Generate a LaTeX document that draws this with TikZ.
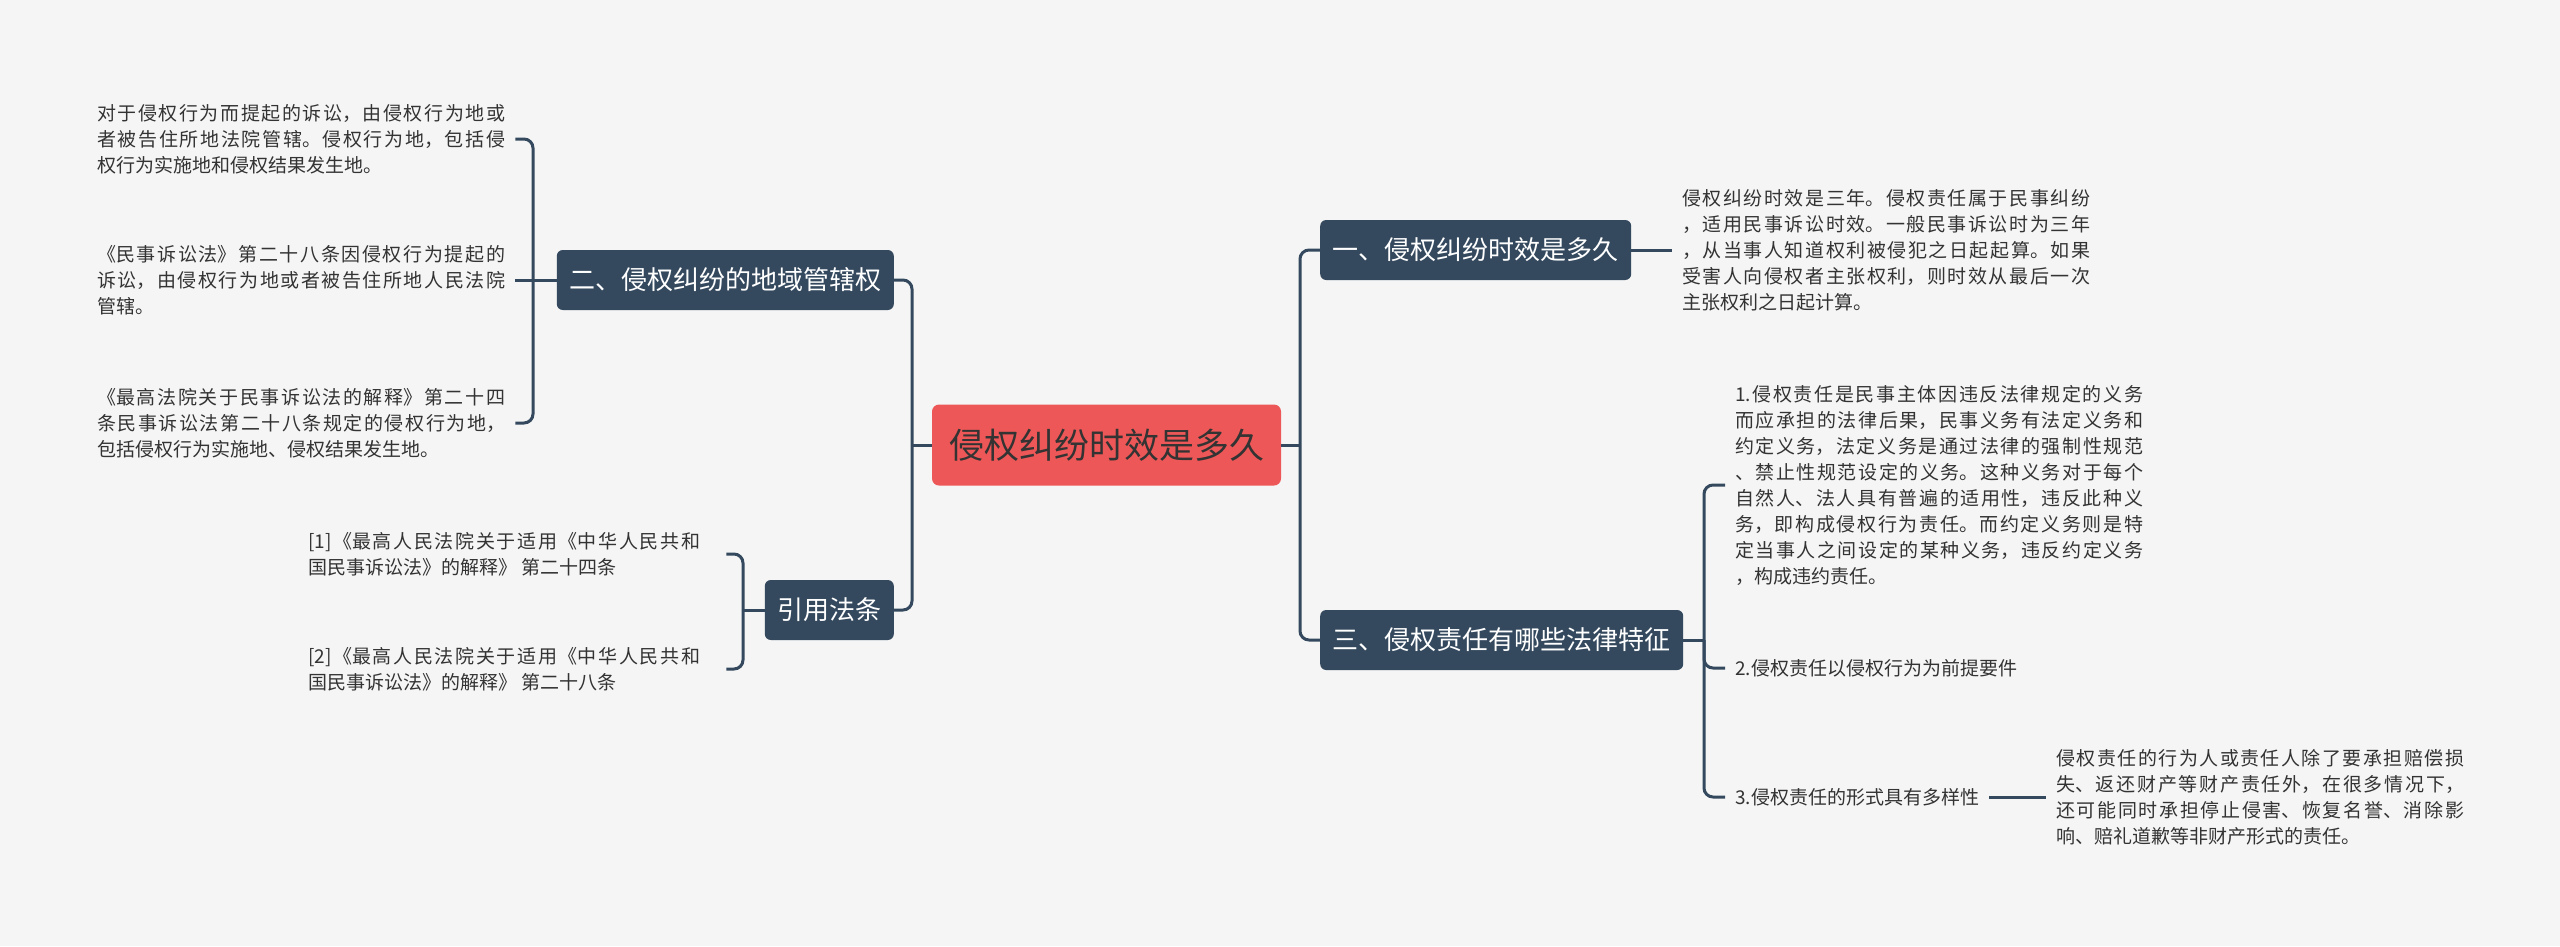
\documentclass[tikz,border=0pt]{standalone}
\usepackage{fontspec}
\setmainfont{Noto Sans CJK SC}
\XeTeXlinebreaklocale "zh"
\XeTeXlinebreakskip=0pt plus 3pt
\definecolor{bg}{HTML}{F5F5F5}
\definecolor{navy}{HTML}{34495E}
\definecolor{rootred}{HTML}{EE5757}
\definecolor{txt}{HTML}{333333}
\tikzset{
  conn/.style={draw=navy, line width=3pt},
  rc/.style={conn, rounded corners=9pt},
  rootbox/.style={fill=rootred, rounded corners=7pt, text=txt, font=\fontsize{35}{40}\selectfont, minimum width=349pt, minimum height=81pt, inner sep=0pt},
  branch/.style={fill=navy, rounded corners=6pt, text=white, font=\fontsize{26}{30}\selectfont, inner xsep=12.5pt, inner ysep=0pt, minimum height=60pt},
  leaf/.style={text=txt, font=\fontsize{19}{26}\selectfont, inner xsep=10pt, inner ysep=0pt},
  para/.style={leaf, text width=408pt, align=justify},
  cite/.style={leaf, text width=392pt, align=justify}
}
\begin{document}
\begin{tikzpicture}[x=1pt, y=-1pt]
\fill[bg] (0,0) rectangle (2560,946);
\useasboundingbox (0,0) rectangle (2560,946);

% root and branches
\node[rootbox] (root) at (1106.5,445) {侵权纠纷时效是多久};
\node[branch, anchor=west] (n1) at (1320,250) {一、侵权纠纷时效是多久};
\node[branch, anchor=west] (n3) at (1320,640) {三、侵权责任有哪些法律特征};
\node[branch, anchor=east] (n2) at (894,280) {二、侵权纠纷的地域管辖权};
\node[branch, anchor=east] (n4) at (894,610) {引用法条};

% junctions
\coordinate (jl) at (912,445);
\coordinate (jr) at (1300,445);
\coordinate (j2) at (533,280);
\coordinate (j4) at (743,610);
\coordinate (j3) at (1704,640);

% right leaves
\node[para, anchor=west] (t1) at (1672,250) {侵权纠纷时效是三年。侵权责任属于民事纠纷\linebreak ，适用民事诉讼时效。一般民事诉讼时为三年\linebreak ，从当事人知道权利被侵犯之日起起算。如果\linebreak 受害人向侵权者主张权利，则时效从最后一次\linebreak 主张权利之日起计算。};
\node[para, anchor=west] (t3a) at (1725,485) {1.侵权责任是民事主体因违反法律规定的义务\linebreak 而应承担的法律后果，民事义务有法定义务和\linebreak 约定义务，法定义务是通过法律的强制性规范\linebreak 、禁止性规范设定的义务。这种义务对于每个\linebreak 自然人、法人具有普遍的适用性，违反此种义\linebreak 务，即构成侵权行为责任。而约定义务则是特\linebreak 定当事人之间设定的某种义务，违反约定义务\linebreak ，构成违约责任。};
\node[leaf, anchor=west] (t3b) at (1725,668) {2.侵权责任以侵权行为为前提要件};
\node[leaf, anchor=west] (t3c) at (1725,797) {3.侵权责任的形式具有多样性};
\node[para, anchor=west] (t3d) at (2046,797) {侵权责任的行为人或责任人除了要承担赔偿损\linebreak 失、返还财产等财产责任外，在很多情况下，\linebreak 还可能同时承担停止侵害、恢复名誉、消除影\linebreak 响、赔礼道歉等非财产形式的责任。};

% left leaves
\node[para, anchor=west] (la) at (87,139) {对于侵权行为而提起的诉讼，由侵权行为地或\linebreak 者被告住所地法院管辖。侵权行为地，包括侵\linebreak 权行为实施地和侵权结果发生地。};
\node[para, anchor=west] (lb) at (87,280) {《民事诉讼法》第二十八条因侵权行为提起的\linebreak 诉讼，由侵权行为地或者被告住所地人民法院\linebreak 管辖。};
\node[para, anchor=west] (lc) at (87,423) {《最高法院关于民事诉讼法的解释》第二十四\linebreak 条民事诉讼法第二十八条规定的侵权行为地，\linebreak 包括侵权行为实施地、侵权结果发生地。};
\node[cite, anchor=west] (l1) at (298,554) {[1]《最高人民法院关于适用《中华人民共和\linebreak 国民事诉讼法》的解释》 第二十四条};
\node[cite, anchor=west] (l2) at (298,669) {[2]《最高人民法院关于适用《中华人民共和\linebreak 国民事诉讼法》的解释》 第二十八条};

% connectors: root
\draw[conn] (root.west) -- (jl);
\draw[rc] (n2.east) -| (jl);
\draw[rc] (n4.east) -| (jl);
\draw[conn] (root.east) -- (jr);
\draw[rc] (jr) |- (n1.west);
\draw[rc] (jr) |- (n3.west);

% branch 1
\draw[conn] (n1.east) -- (t1.west);

% branch 3
\draw[conn] (n3.east) -- (j3);
\draw[rc] (j3) |- (t3a.west);
\draw[rc] (j3) |- (t3b.west);
\draw[rc] (j3) |- (t3c.west);
\draw[conn] (t3c.east) -- (t3d.west);

% branch 2
\draw[conn] (n2.west) -- (j2);
\draw[rc] (la.east) -| (j2);
\draw[rc] (lc.east) -| (j2);
\draw[conn] (lb.east) -- (j2);

% branch 4
\draw[conn] (n4.west) -- (j4);
\draw[rc] ([xshift=16pt]l1.east) -| (j4);
\draw[rc] ([xshift=16pt]l2.east) -| (j4);
\end{tikzpicture}
\end{document}
